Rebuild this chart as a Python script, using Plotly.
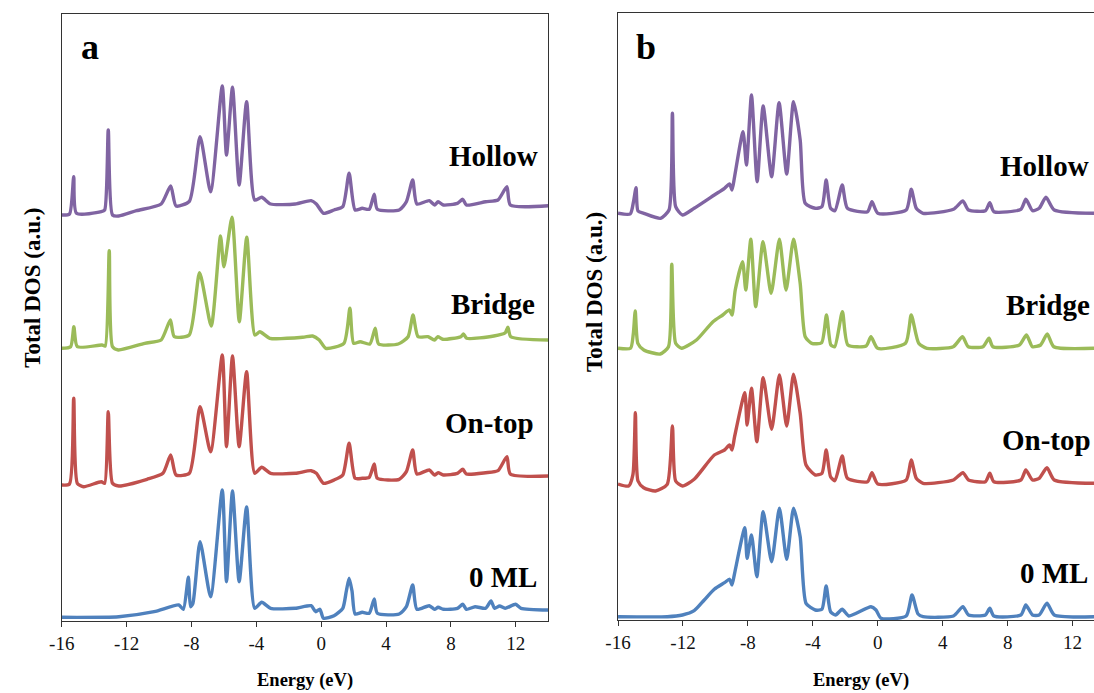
import plotly.graph_objects as go

# ---------------- Panel a data (Energy in eV, stacked DOS in a.u.) ----------------
a_hollow_E = [-16.0, -15.52, -15.26, -15.09, -13.56, -13.35, -13.13, -12.87, -12.48, -11.39, -9.87, -9.28, -8.95, -8.13,
              -7.47, -6.82, -6.10, -5.84, -5.47, -5.06, -4.60, -4.10, -3.67, -3.12, -1.60, -0.62, -0.30, 0.14, 0.79,
              1.33, 1.72, 2.09, 2.53, 2.96, 3.27, 3.46, 4.81, 5.25, 5.64, 5.90, 6.66, 6.99, 7.21, 7.53, 8.40, 8.73,
              8.95, 10.14, 10.90, 11.45, 11.66, 14.0]
a_hollow_D = [40.6, 40.7, 44.43, 40.77, 40.93, 41.1, 49.1, 40.6, 40.5, 41.03, 41.7, 43.5, 41.5, 41.97,
              48.43, 42.93, 53.5, 46.6, 53.37, 43.6, 51.93, 42.1, 42.37, 41.7, 41.7, 42.03, 41.7, 40.77, 41.1,
              41.43, 44.77, 41.1, 41.27, 41.17, 42.67, 41.17, 41.1, 41.93, 44.1, 41.7, 42.03, 41.6, 41.93, 41.6, 41.77, 42.17,
              41.6, 41.93, 42.1, 43.43, 41.6, 41.53]

a_bridge_E = [-16.0, -15.45, -15.25, -15.04, -13.52, -13.32, -13.07, -12.87, -12.51, -10.88, -9.87, -9.30, -9.06, -8.14,
              -7.50, -6.78, -6.21, -6.0, -5.50, -5.05, -4.59, -4.09, -3.78, -3.17, -1.14, -0.53, -0.12, 0.28, 1.40,
              1.77, 2.0, 2.4, 3.0, 3.33, 3.54, 4.75, 5.36, 5.66, 5.97, 6.58, 6.98, 7.19, 7.50, 8.61, 8.77, 8.97,
              10.64, 11.35, 11.51, 11.69, 14.0]
a_bridge_D = [27.27, 27.43, 29.43, 27.43, 27.6, 27.5, 37.03, 27.43, 27.1, 27.77, 28.1, 30.1, 28.43, 28.6,
              34.83, 29.5, 38.5, 35.43, 40.37, 29.93, 38.37, 28.6, 28.93, 28.27, 28.37, 28.5, 28.1, 27.27, 27.77,
              31.27, 27.77, 27.93, 27.7, 29.27, 27.7, 27.7, 28.43, 30.6, 28.43, 28.43, 28.1, 28.43, 28.17, 28.43, 28.7, 28.27,
              28.5, 28.83, 29.37, 28.43, 28.1]

a_ontop_E = [-16.0, -15.52, -15.26, -15.04, -14.65, -13.56, -13.35, -13.13, -12.87, -12.48, -10.74, -9.76, -9.28, -8.95,
             -8.13, -7.47, -6.82, -6.10, -5.84, -5.47, -5.06, -4.60, -4.10, -3.67, -3.12, -1.60, -0.62, -0.30, 0.14,
             0.79, 1.33, 1.72, 2.09, 2.53, 2.96, 3.27, 3.46, 4.81, 5.25, 5.64, 5.90, 6.66, 6.99, 7.21, 7.53, 8.40,
             8.73, 8.95, 10.14, 10.90, 11.45, 11.66, 14.0]
a_ontop_D = [13.6, 13.7, 22.27, 13.77, 13.43, 13.93, 13.77, 20.93, 13.77, 13.5, 14.17, 14.77, 16.6, 14.6,
             14.77, 21.43, 16.93, 26.6, 17.43, 26.5, 17.43, 24.93, 14.77, 15.37, 14.77, 14.77, 15.03, 14.77, 13.77,
             14.1, 14.6, 17.77, 14.27, 14.27, 14.37, 15.7, 14.27, 14.17, 14.93, 17.1, 14.7, 15.1, 14.6, 14.83, 14.6, 14.77,
             15.17, 14.7, 14.83, 15.03, 16.43, 14.7, 14.5]

a_zero_E = [-16.0, -12.48, -10.3, -8.78, -8.5, -8.19, -8.06, -7.91, -7.47, -6.82, -6.10, -5.84, -5.47, -5.06,
            -4.60, -4.10, -3.67, -3.12, -1.60, -0.62, -0.34, -0.08, 0.14, 0.79, 1.33, 1.55, 1.72, 1.90, 2.09,
            2.53, 2.96, 3.27, 3.46, 4.81, 5.25, 5.64, 5.90, 6.66, 6.99, 7.21, 7.53, 8.40, 8.73, 8.95, 9.49,
            10.14, 10.47, 10.69, 11.0, 11.34, 11.99, 12.32, 14.0]
a_zero_D = [0.37, 0.43, 0.93, 1.6, 1.17, 4.37, 1.43, 1.77, 7.93, 2.43, 13.1, 3.93, 13.0, 3.93,
            11.4, 1.27, 1.87, 1.27, 1.27, 1.53, 0.93, 1.17, 0.27, 0.53, 1.27, 3.0, 4.27, 3.0, 0.7,
            0.87, 0.77, 2.2, 0.77, 0.7, 1.43, 3.6, 1.17, 1.53, 1.17, 1.37, 1.17, 1.27, 1.67, 1.17, 1.43,
            1.27, 2.0, 1.27, 1.5, 1.27, 1.67, 1.27, 1.1]

# ---------------- Panel b data ----------------
b_hollow_E = [-16.0, -15.25, -15.04, -14.89, -14.77, -14.41, -13.38, -12.86, -12.65, -12.45, -12.03, -11.31, -10.07,
              -9.44, -9.13, -8.98, -8.82, -8.30, -8.09, -7.78, -7.43, -7.06, -6.54, -6.08, -5.61, -5.19, -4.78,
              -4.47, -3.85, -3.44, -3.18, -2.91, -2.64, -2.19, -1.87, -0.63, -0.36, 0.0, 1.75, 2.06, 2.37, 2.79,
              4.66, 5.24, 5.59, 6.63, 6.90, 7.15, 8.81, 9.12, 9.53, 9.94, 10.36, 10.87, 13.32]
b_hollow_D = [40.77, 40.7, 42.0, 43.33, 41.0, 40.77, 40.27, 41.1, 50.77, 41.43, 40.6, 41.27, 42.6,
              43.27, 43.7, 43.1, 44.43, 48.93, 45.6, 52.6, 43.93, 51.5, 44.43, 51.83, 44.7, 51.93, 48.1,
              41.77, 41.27, 41.43, 44.1, 41.27, 41.03, 43.6, 41.27, 40.93, 41.93, 40.77, 41.1, 43.17, 41.27, 40.77,
              41.17, 42.0, 41.1, 41.03, 41.83, 40.93, 41.17, 42.17, 41.03, 41.27, 42.37, 41.1, 40.77]

b_bridge_E = [-16.0, -15.23, -15.06, -14.94, -14.78, -14.41, -13.4, -12.89, -12.69, -12.45, -12.08, -11.17, -10.15,
              -9.55, -9.14, -8.98, -8.78, -8.33, -8.13, -7.82, -7.52, -7.07, -6.57, -6.06, -5.65, -5.19, -4.78,
              -4.47, -4.07, -3.46, -3.16, -2.89, -2.65, -2.18, -1.84, -0.72, -0.42, -0.01, 1.71, 2.06, 2.52, 3.03,
              4.65, 5.22, 5.57, 6.48, 6.85, 7.09, 8.72, 9.16, 9.52, 10.03, 10.44, 10.84, 13.32]
b_bridge_D = [27.27, 27.27, 28.7, 31.0, 27.77, 27.1, 26.7, 27.43, 35.67, 27.77, 27.27, 28.1, 29.93,
              30.6, 31.1, 30.6, 33.1, 35.93, 33.1, 38.17, 31.43, 37.93, 32.77, 38.17, 33.1, 38.17, 33.77,
              28.43, 27.77, 27.83, 30.6, 27.6, 27.43, 30.93, 27.6, 27.5, 28.43, 27.27, 27.77, 30.6, 27.77, 27.27,
              27.43, 28.43, 27.43, 27.43, 28.27, 27.43, 27.6, 28.6, 27.43, 27.6, 28.7, 27.43, 27.27]

b_ontop_E = [-16.0, -15.35, -15.08, -14.93, -14.77, -14.42, -13.69, -12.97, -12.65, -12.45, -12.03, -11.31, -10.07,
             -9.44, -9.13, -8.98, -8.82, -8.19, -8.05, -7.78, -7.45, -7.06, -6.54, -6.06, -5.61, -5.19, -4.78,
             -4.42, -3.85, -3.44, -3.18, -2.91, -2.64, -2.19, -1.87, -0.63, -0.36, 0.0, 1.75, 2.06, 2.37, 2.79,
             4.66, 5.24, 5.59, 6.63, 6.90, 7.15, 8.81, 9.12, 9.53, 9.94, 10.42, 10.87, 13.32]
b_ontop_D = [13.7, 13.5, 14.67, 20.83, 14.0, 13.33, 13.0, 13.67, 19.5, 14.0, 13.5, 14.17, 16.6,
             17.1, 17.6, 17.1, 18.43, 22.83, 19.6, 23.27, 17.93, 24.33, 19.17, 24.6, 19.5, 24.67, 20.77,
             15.6, 14.6, 14.77, 17.1, 14.43, 14.03, 16.5, 14.27, 13.93, 14.83, 13.7, 14.1, 16.1, 14.27, 13.77,
             14.1, 14.83, 14.1, 13.93, 14.77, 13.93, 14.1, 15.1, 14.1, 14.27, 15.33, 14.1, 13.77]

b_zero_E = [-16.0, -12.97, -12.03, -11.31, -10.69, -10.07, -9.44, -9.13, -8.98, -8.82, -8.19, -8.05, -7.78,
            -7.45, -7.06, -6.54, -6.06, -5.61, -5.19, -4.78, -4.42, -3.85, -3.44, -3.18, -2.91, -2.6, -2.19,
            -1.78, -0.42, -0.11, 0.2, 1.75, 2.11, 2.48, 2.79, 4.66, 5.24, 5.59, 6.63, 6.90, 7.15, 8.81, 9.12,
            9.53, 9.94, 10.42, 10.87, 13.32]
b_zero_D = [0.43, 0.43, 0.6, 1.03, 2.1, 3.17, 3.83, 4.17, 3.6, 4.77, 9.33, 6.27, 8.6,
            4.43, 10.93, 5.93, 11.27, 6.17, 11.27, 8.43, 1.77, 1.1, 1.17, 3.5, 0.93, 0.6, 1.17,
            0.5, 1.43, 1.1, 0.27, 0.5, 2.6, 0.7, 0.43, 0.5, 1.43, 0.6, 0.6, 1.27, 0.5, 0.6, 1.6,
            0.6, 0.6, 1.77, 0.6, 0.43]

series_names = ["Hollow", "Bridge", "On-top", "0 ML"]
series_colors = ["#8064A2", "#9BBB59", "#C0504D", "#4F81BD"]
x_ticks = [-16, -12, -8, -4, 0, 4, 8, 12]
x_tick_text = ["-16", "-12", "-8", "-4", "0", "4", "8", "12"]

W, H = 1094, 693
FONT = "Liberation Serif, Times New Roman, serif"

fig = go.Figure()

panel_a = [(a_hollow_E, a_hollow_D), (a_bridge_E, a_bridge_D), (a_ontop_E, a_ontop_D), (a_zero_E, a_zero_D)]
panel_b = [(b_hollow_E, b_hollow_D), (b_bridge_E, b_bridge_D), (b_ontop_E, b_ontop_D), (b_zero_E, b_zero_D)]

for (E, D), name, col in zip(panel_a, series_names, series_colors):
    fig.add_trace(go.Scatter(x=E, y=D, mode="lines", name=name, xaxis="x", yaxis="y",
                             line=dict(color=col, width=3.4, shape="spline", smoothing=0.6),
                             showlegend=False))
for (E, D), name, col in zip(panel_b, series_names, series_colors):
    fig.add_trace(go.Scatter(x=E, y=D, mode="lines", name=name, xaxis="x2", yaxis="y2",
                             line=dict(color=col, width=3.4, shape="spline", smoothing=0.6),
                             showlegend=False))

def px(x):
    return x / W

def py(y):
    return 1 - y / H

axis_common = dict(showgrid=False, zeroline=False, linecolor="#333333", linewidth=1,
                   tickfont=dict(family=FONT, size=19, color="#111111"))

fig.update_layout(
    width=W, height=H,
    margin=dict(l=0, r=0, t=0, b=0),
    paper_bgcolor="white", plot_bgcolor="white",
    xaxis=dict(domain=[px(49.3), px(541.7)], range=[-16, 14], tickvals=x_ticks, ticktext=x_tick_text,
               ticks="outside", ticklen=5, tickcolor="#333333", showline=True, mirror=True,
               anchor="y", **axis_common),
    yaxis=dict(domain=[py(621), py(14)], range=[0, 60.7], showticklabels=False, ticks="",
               showline=True, mirror=True, anchor="x", **axis_common),
    xaxis2=dict(domain=[px(612.3), 1.0], range=[-16, 13.318], tickvals=x_ticks, ticktext=x_tick_text,
                ticks="outside", ticklen=5, tickcolor="#333333", showline=True, mirror=True,
                anchor="y2", **axis_common),
    yaxis2=dict(domain=[py(620), py(12.7)], range=[0.1, 60.83], showticklabels=False, ticks="",
                showline=True, mirror=False, anchor="x2", **axis_common),
)

annots = []
lab_font = dict(family=FONT, size=29, color="black")
# curve labels: (text, x_px, y_center_px, anchor)
label_pos = [
    ("<b>Hollow</b>", 533, 156, "right"), ("<b>Bridge</b>", 530, 304, "right"),
    ("<b>On-top</b>", 529, 423, "right"), ("<b>0 ML</b>", 532, 576.5, "right"),
    ("<b>Hollow</b>", 1091, 166, "right"), ("<b>Bridge</b>", 1092, 305, "right"),
    ("<b>On-top</b>", 1093, 440, "right"), ("<b>0 ML</b>", 1090, 572.5, "right"),
]
for t, x, y, anc in label_pos:
    annots.append(dict(text=t, x=px(x), y=py(y), xref="paper", yref="paper", xanchor=anc,
                       yanchor="middle", showarrow=False, font=lab_font))
# panel letters
for t, x in [("<b>a</b>", 67), ("<b>b</b>", 628)]:
    annots.append(dict(text=t, x=px(x), y=py(47), xref="paper", yref="paper", xanchor="left",
                       yanchor="middle", showarrow=False, font=dict(family=FONT, size=36, color="black")))
# axis titles
for x in [295.5, 858.5]:
    annots.append(dict(text="<b>Energy (eV)</b>", x=px(x), y=py(680.5), xref="paper", yref="paper",
                       xanchor="center", yanchor="middle", showarrow=False,
                       font=dict(family=FONT, size=18.5, color="black")))
for x, y in [(19, 288), (588, 292)]:
    annots.append(dict(text="<b>Total DOS (a.u.)</b>", x=px(x), y=py(y), xref="paper", yref="paper",
                       xanchor="center", yanchor="middle", textangle=-90, showarrow=False,
                       font=dict(family=FONT, size=23, color="black")))
fig.update_layout(annotations=annots)

fig.write_html("out.html")
